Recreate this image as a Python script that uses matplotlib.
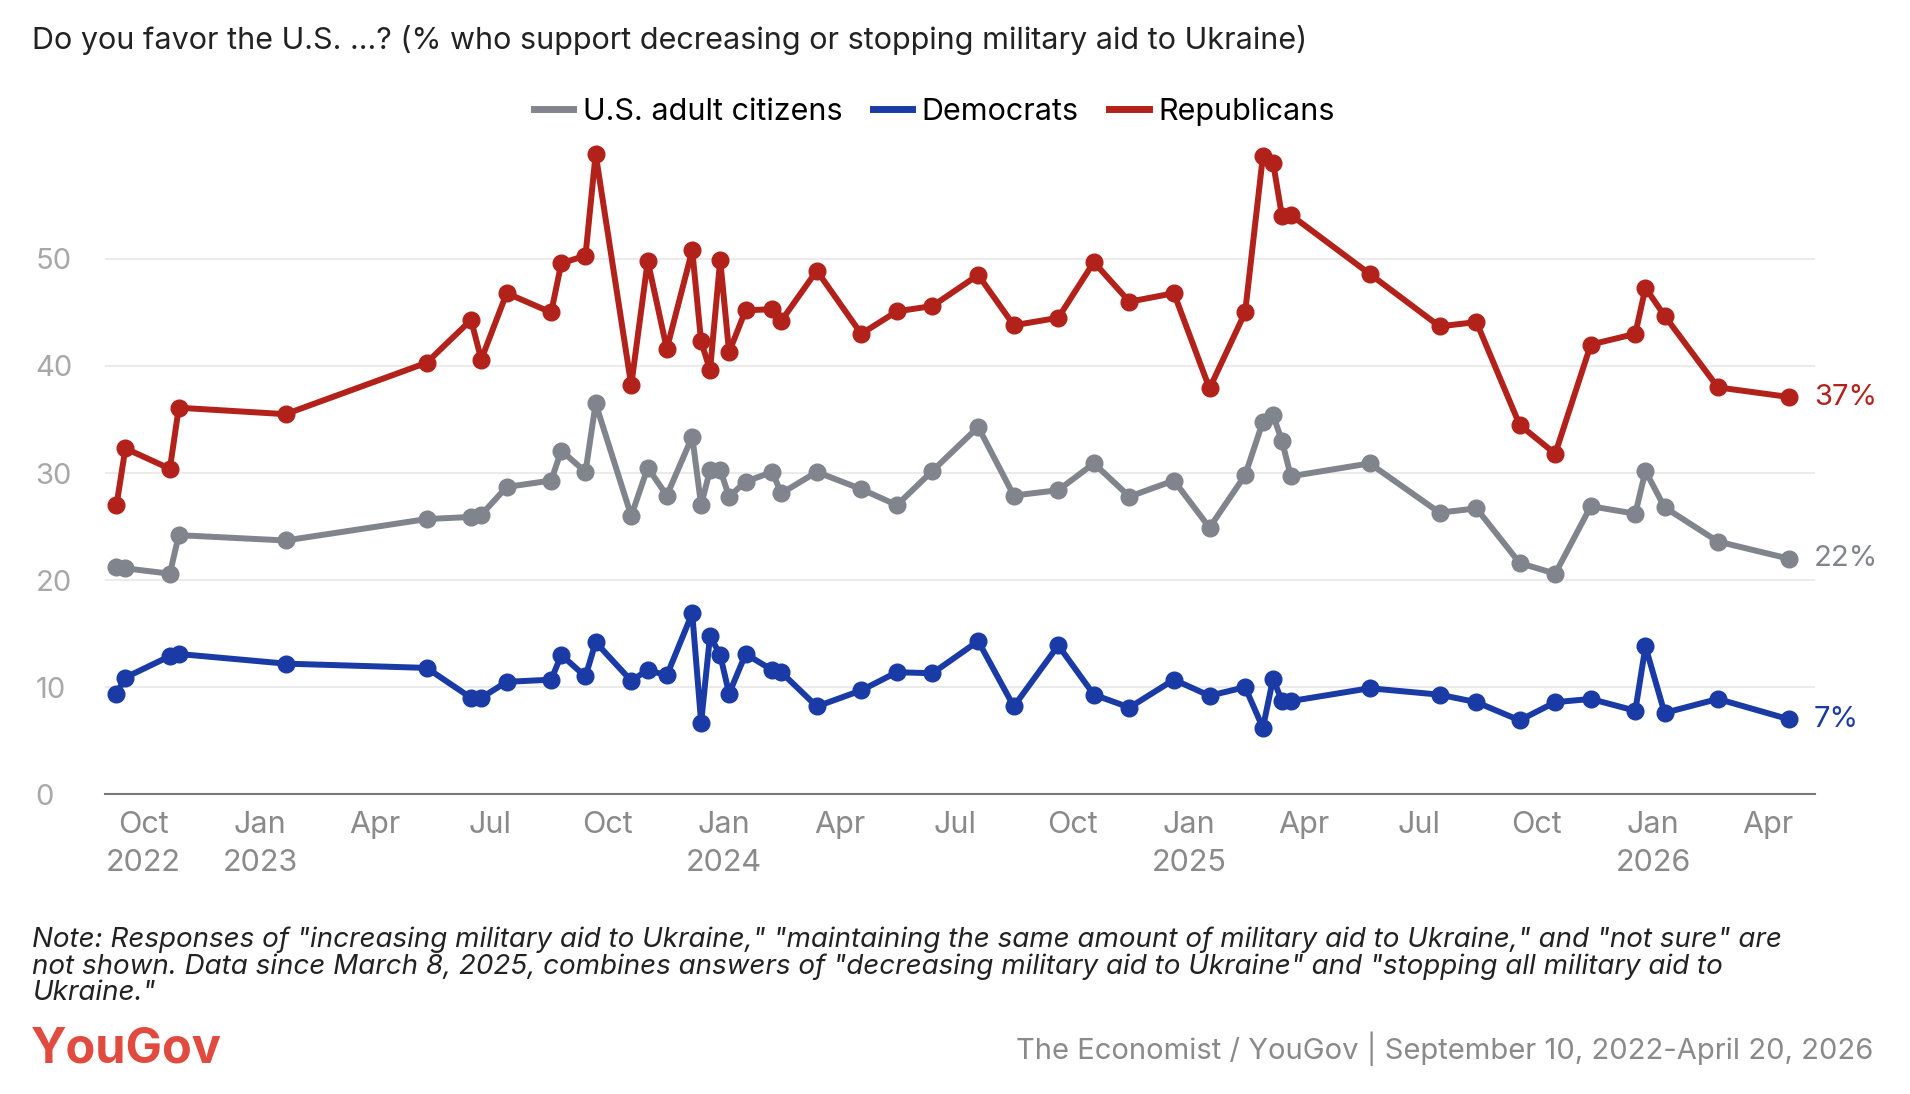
import matplotlib
matplotlib.use('Agg')
import matplotlib.pyplot as plt
import pandas as pd

plt.rcParams['font.family'] = ['Inter', 'DejaVu Sans']

dates = ['2022-09-10', '2022-09-17', '2022-10-22', '2022-10-29', '2023-01-21', '2023-05-12',
         '2023-06-16', '2023-06-24', '2023-07-14', '2023-08-18', '2023-08-26', '2023-09-14',
         '2023-09-22', '2023-10-20', '2023-11-02', '2023-11-17', '2023-12-07', '2023-12-14',
         '2023-12-21', '2023-12-29', '2024-01-05', '2024-01-18', '2024-02-08', '2024-02-15',
         '2024-03-14', '2024-04-18', '2024-05-16', '2024-06-13', '2024-07-19', '2024-08-16',
         '2024-09-20', '2024-10-18', '2024-11-15', '2024-12-20', '2025-01-17', '2025-02-14',
         '2025-02-28', '2025-03-08', '2025-03-15', '2025-03-22', '2025-05-23', '2025-07-17',
         '2025-08-15', '2025-09-18', '2025-10-16', '2025-11-13', '2025-12-18', '2025-12-26',
         '2026-01-10', '2026-02-21', '2026-04-18']
republicans = [27.0, 32.3, 30.4, 36.1, 35.5, 40.3, 44.3, 40.6, 46.8, 45.0, 49.6, 50.3, 59.8,
               38.2, 49.8, 41.6, 50.8, 42.3, 39.6, 49.9, 41.3, 45.2, 45.3, 44.2, 48.9, 43.0,
               45.1, 45.6, 48.5, 43.8, 44.5, 49.7, 46.0, 46.8, 37.9, 45.0, 59.6, 59.0, 54.0,
               54.1, 48.6, 43.7, 44.1, 34.5, 31.8, 42.0, 43.0, 47.3, 44.7, 38.0, 37.1]
adults = [21.2, 21.1, 20.6, 24.2, 23.7, 25.7, 25.9, 26.1, 28.7, 29.3, 32.1, 30.1, 36.5, 26.0,
          30.5, 27.9, 33.4, 27.0, 30.3, 30.3, 27.8, 29.2, 30.1, 28.1, 30.1, 28.5, 27.0, 30.2,
          34.3, 27.9, 28.4, 30.9, 27.8, 29.3, 24.9, 29.8, 34.8, 35.4, 33.0, 29.7, 30.9, 26.3,
          26.7, 21.6, 20.6, 26.9, 26.2, 30.2, 26.8, 23.6, 22.0]
democrats = [9.4, 10.9, 12.9, 13.1, 12.2, 11.8, 9.0, 9.0, 10.5, 10.7, 13.0, 11.0, 14.2, 10.6,
             11.6, 11.1, 16.9, 6.7, 14.8, 13.0, 9.4, 13.1, 11.6, 11.4, 8.2, 9.7, 11.4, 11.3,
             14.3, 8.2, 13.9, 9.3, 8.1, 10.7, 9.2, 10.0, 6.2, 10.8, 8.7, 8.7, 9.9, 9.3, 8.6,
             6.9, 8.6, 8.9, 7.8, 13.8, 7.6, 8.9, 7.0]

series = [('U.S. adult citizens', adults, '#80848d', '22%'),
          ('Democrats', democrats, '#1a3aa6', '7%'),
          ('Republicans', republicans, '#b3221a', '37%')]

x = pd.to_datetime(dates)
fig = plt.figure(figsize=(19.1, 10.94), dpi=100)
ax = fig.add_axes([0.055, 0.274, 0.895, 0.597])

for name, vals, col, lab in series:
    ax.plot(x, vals, color=col, lw=4.3, marker='o', ms=12, label=name, zorder=3)
    ax.annotate(lab, (x[-1], vals[-1]), xytext=(18, 0), textcoords='offset points',
                va='center', ha='left', color=col, fontsize=21)

ax.set_ylim(0, 61)
ax.set_xlim(pd.Timestamp('2022-09-01'), pd.Timestamp('2026-05-08'))
ax.set_yticks([0, 10, 20, 30, 40, 50])
ax.grid(axis='y', color='#ebebeb', lw=1.5)
ax.set_axisbelow(True)
for s in ['top', 'right', 'left']:
    ax.spines[s].set_visible(False)
ax.spines['bottom'].set_color('#777777')
ax.spines['bottom'].set_linewidth(1.5)
ax.tick_params(axis='y', length=0, labelsize=21, labelcolor='#a8a8a8', pad=50)
for t in ax.get_yticklabels():
    t.set_horizontalalignment('left')

ticks = pd.date_range('2022-10-01', '2026-04-01', freq='3MS')
labels = [f"{d.strftime('%b')}\n{d.year}" if (d.month == 1 or d == ticks[0]) else d.strftime('%b')
          for d in ticks]
ax.set_xticks(ticks)
ax.set_xticklabels(labels, fontsize=22, color='#8a8a8a', linespacing=1.45)
ax.tick_params(axis='x', length=0, pad=12)

leg = ax.legend(loc='center', bbox_to_anchor=(0.485, 1.045), ncol=3, frameon=False,
                fontsize=22, handlelength=1.3, handletextpad=0.3, columnspacing=1.0)
for h in leg.legend_handles:
    h.set_marker('')
    h.set_linewidth(5)

fig.text(0.017, 0.963, 'Do you favor the U.S. ...? (% who support decreasing or stopping military aid to Ukraine)',
         fontsize=22, color='#222222', va='center')
fig.text(0.017, 0.153, 'Note: Responses of "increasing military aid to Ukraine," "maintaining the same amount of military aid to Ukraine," and "not sure" are\n'
         'not shown. Data since March 8, 2025, combines answers of "decreasing military aid to Ukraine" and "stopping all military aid to\n'
         'Ukraine."', fontsize=20, style='italic', color='#222222', va='top', linespacing=1.0)
fig.text(0.016, 0.041, 'YouGov', fontsize=35, fontweight='bold', color='#e04a3f', va='center')
fig.text(0.981, 0.041, 'The Economist / YouGov | September 10, 2022-April 20, 2026',
         fontsize=21, color='#8a8a8a', ha='right', va='center')

fig.savefig('out.png', dpi=100, facecolor='white')
